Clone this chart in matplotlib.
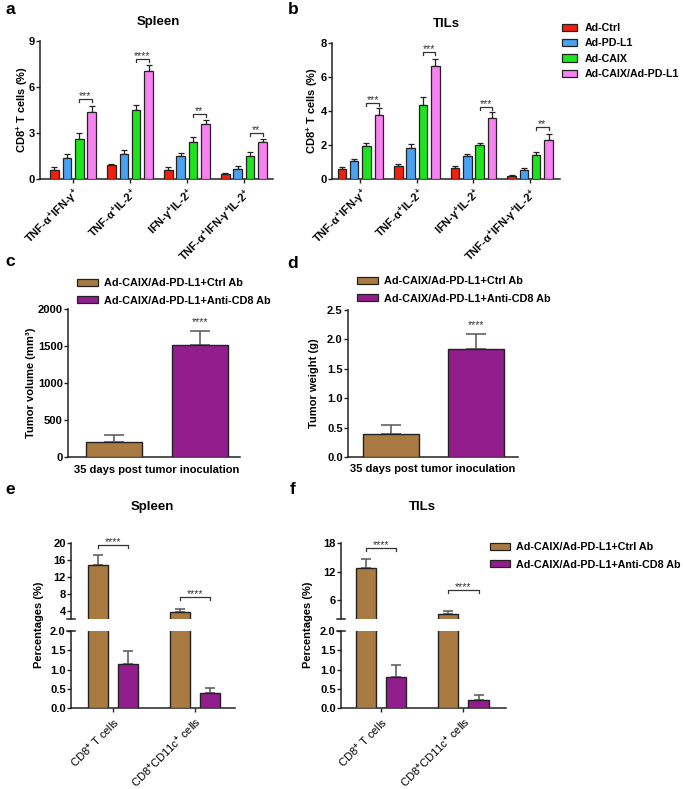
import numpy as np
import matplotlib
matplotlib.use('Agg')
import matplotlib.pyplot as plt
from matplotlib.patches import Patch
from matplotlib.lines import Line2D

plt.rcParams['font.family'] = ['Liberation Sans', 'DejaVu Sans']
plt.rcParams['font.weight'] = 'bold'
plt.rcParams['axes.labelweight'] = 'bold'
plt.rcParams['mathtext.fontset'] = 'custom'
plt.rcParams['mathtext.rm'] = 'Liberation Sans:bold'
plt.rcParams['mathtext.it'] = 'Liberation Sans:bold'
plt.rcParams['mathtext.bf'] = 'Liberation Sans:bold'
plt.rcParams['mathtext.sf'] = 'Liberation Sans:bold'

# ---------------- data ----------------
cytokine_labels = [r'TNF-α$^{+}$IFN-γ$^{+}$', r'TNF-α$^{+}$IL-2$^{+}$',
                   r'IFN-γ$^{+}$IL-2$^{+}$', r'TNF-α$^{+}$IFN-γ$^{+}$IL-2$^{+}$']
treatments = ['Ad-Ctrl', 'Ad-PD-L1', 'Ad-CAIX', 'Ad-CAIX/Ad-PD-L1']
treat_colors = ['#F0200C', '#4AA3F2', '#1EE41E', '#F882F2']

# Spleen (panel a)
spleen_ctrl = [0.56, 0.89, 0.56, 0.33]
spleen_pdl1 = [1.40, 1.63, 1.47, 0.65]
spleen_caix = [2.58, 4.49, 2.43, 1.52]
spleen_combo = [4.36, 7.07, 3.60, 2.39]
spleen_ctrl_err = [0.22, 0.11, 0.22, 0.06]
spleen_pdl1_err = [0.20, 0.27, 0.20, 0.20]
spleen_caix_err = [0.39, 0.35, 0.30, 0.24]
spleen_combo_err = [0.37, 0.39, 0.28, 0.19]
spleen_sig_y = [5.2, 7.85, 4.23, 2.97]
spleen_sig = ['***', '****', '**', '**']

# TILs (panel b)
tils_ctrl = [0.57, 0.79, 0.67, 0.18]
tils_pdl1 = [1.04, 1.85, 1.38, 0.51]
tils_caix = [1.93, 4.38, 2.00, 1.41]
tils_combo = [3.77, 6.66, 3.60, 2.30]
tils_ctrl_err = [0.16, 0.11, 0.08, 0.08]
tils_pdl1_err = [0.16, 0.21, 0.07, 0.12]
tils_caix_err = [0.17, 0.47, 0.14, 0.16]
tils_combo_err = [0.38, 0.39, 0.33, 0.33]
tils_sig_y = [4.5, 7.47, 4.26, 3.03]
tils_sig = ['***', '***', '***', '**']

# Panels c-f
ab_groups = ['Ad-CAIX/Ad-PD-L1+Ctrl Ab', 'Ad-CAIX/Ad-PD-L1+Anti-CD8 Ab']
ab_colors = ['#A97A42', '#921E8D']
tumor_volume = [200, 1520]
tumor_volume_err = [95, 180]
tumor_weight = [0.39, 1.83]
tumor_weight_err = [0.16, 0.27]

cell_labels = [r'CD8$^{+}$ T cells', r'CD8$^{+}$CD11c$^{+}$ cells']
e_ctrl = [14.7, 3.6]
e_ctrl_err = [2.4, 0.85]
e_cd8 = [1.15, 0.39]
e_cd8_err = [0.33, 0.12]
e_sig_y = [19.6, 7.3]
f_ctrl = [12.8, 3.1]
f_ctrl_err = [1.8, 0.6]
f_cd8 = [0.80, 0.22]
f_cd8_err = [0.31, 0.13]
f_sig_y = [17.0, 8.1]

# ---------------- layout helpers ----------------
W, H = 683, 789
fig = plt.figure(figsize=(W / 100, H / 100), dpi=100)
SP = '#222222'
TICK_FS = 8
LAB_FS = 8


def px_axes(left, top, right, bottom):
    return fig.add_axes([left / W, 1 - bottom / H, (right - left) / W, (bottom - top) / H])


def style(ax, xticks=True):
    for s in ['top', 'right']:
        ax.spines[s].set_visible(False)
    for s in ['left', 'bottom']:
        ax.spines[s].set_color(SP)
        ax.spines[s].set_linewidth(1.1)
    ax.tick_params(axis='y', length=3, width=1, color=SP, labelsize=TICK_FS, pad=0.8)
    ax.tick_params(axis='x', length=3 if xticks else 0, width=1, color=SP, labelsize=TICK_FS)
    for lab in ax.get_yticklabels():
        lab.set_fontweight('bold')


def ftext(x, y, s, **kw):
    fig.text(x / W, 1 - y / H, s, **kw)


def bracket(ax, x1, x2, y, text, hpx=3, fs=7.5, color='#333333'):
    y0, y1 = ax.get_ylim()
    hpx_ax = ax.get_position().height * H
    h = hpx * (y1 - y0) / hpx_ax
    ax.plot([x1, x1, x2, x2], [y - h, y, y, y - h], color=color, lw=0.9, clip_on=False)
    ax.annotate(text, ((x1 + x2) / 2, y), xytext=(0, -1.5), textcoords='offset points',
                ha='center', va='bottom', fontsize=fs, fontweight='normal', color=color,
                annotation_clip=False)


def hline_px(x1, x2, y, color=SP, lw=1.1):
    fig.add_artist(Line2D([x1 / W, x2 / W], [1 - y / H, 1 - y / H],
                          transform=fig.transFigure, color=color, lw=lw))


# ---------------- panels a & b ----------------
def grouped_panel(ax, series, errs, sig_y, sig, ylim, yticks, xlim):
    x = np.arange(len(cytokine_labels))
    step, width = 0.218, 0.15
    for i, (vals, err, col) in enumerate(zip(series, errs, treat_colors)):
        xs = x + (i - 1.5) * step
        ax.bar(xs, vals, width, color=col, edgecolor=SP, linewidth=0.9, zorder=3)
        ax.errorbar(xs, vals, yerr=[np.zeros(len(vals)), err], fmt='none',
                    ecolor=SP, elinewidth=0.9, capsize=2.2, capthick=0.9, zorder=2)
    ax.set_ylim(*ylim)
    ax.set_xlim(*xlim)
    ax.set_yticks(yticks)
    ax.set_xticks(x)
    ax.set_xticklabels(cytokine_labels, rotation=45, ha='right', rotation_mode='anchor',
                       fontsize=7.2, fontweight='bold')
    style(ax)
    ax.tick_params(axis='x', pad=2)
    for xi, yi, s in zip(x, sig_y, sig):
        bracket(ax, xi + 0.5 * step, xi + 1.5 * step, yi, s)


ax_a = px_axes(40, 41, 273, 179)
grouped_panel(ax_a, [spleen_ctrl, spleen_pdl1, spleen_caix, spleen_combo],
              [spleen_ctrl_err, spleen_pdl1_err, spleen_caix_err, spleen_combo_err],
              spleen_sig_y, spleen_sig, (0, 9), [0, 3, 6, 9], (-0.58, 3.51))
ax_b = px_axes(332, 43, 560, 179)
grouped_panel(ax_b, [tils_ctrl, tils_pdl1, tils_caix, tils_combo],
              [tils_ctrl_err, tils_pdl1_err, tils_caix_err, tils_combo_err],
              tils_sig_y, tils_sig, (0, 8), [0, 2, 4, 6, 8], (-0.5, 3.53))

ftext(158, 22, 'Spleen', ha='center', va='center', fontsize=9.5)
ftext(446, 24, 'TILs', ha='center', va='center', fontsize=9.5)
ftext(22, 110, r'CD8$^{+}$ T cells (%)', rotation=90, ha='center', va='center', fontsize=LAB_FS)
ftext(312, 111, r'CD8$^{+}$ T cells (%)', rotation=90, ha='center', va='center', fontsize=LAB_FS)

fig.legend([Patch(facecolor=c, edgecolor=SP, linewidth=0.9) for c in treat_colors], treatments,
           loc='upper left', bbox_to_anchor=(562 / W, 1 - 23 / H), frameon=False,
           fontsize=7.7, handlelength=1.4, handleheight=0.65, handletextpad=0.75,
           labelspacing=0.5, borderpad=0, borderaxespad=0)

# ---------------- panels c & d ----------------
def two_bar_panel(ax, vals, errs, ylim, yticks, xlim, sig_y, fmt=None):
    x = np.arange(2)
    ax.bar(x, vals, 0.655, color=ab_colors, edgecolor=SP, linewidth=1.0, zorder=3)
    ax.errorbar(x, vals, yerr=[np.zeros(2), errs], fmt='none', ecolor='#555555',
                elinewidth=1.1, capsize=7, capthick=1.1, zorder=2)
    ax.set_ylim(*ylim)
    ax.set_xlim(*xlim)
    ax.set_yticks(yticks)
    if fmt:
        ax.set_yticklabels([fmt.format(t) for t in yticks])
    ax.set_xticks([])
    style(ax, xticks=False)
    ax.annotate('****', (1, sig_y), xytext=(0, -1.5), textcoords='offset points',
                ha='center', va='bottom', fontsize=7.5, fontweight='normal', color='#333333')


ax_c = px_axes(68, 309, 240, 457)
two_bar_panel(ax_c, tumor_volume, tumor_volume_err, (0, 2000), [0, 500, 1000, 1500, 2000],
              (-0.535, 1.465), 1780)
ax_d = px_axes(348, 310, 518, 457)
two_bar_panel(ax_d, tumor_weight, tumor_weight_err, (0, 2.5), [0, 0.5, 1.0, 1.5, 2.0, 2.5],
              (-0.5, 1.49), 2.2, fmt='{:.1f}')

ftext(31, 383, 'Tumor volume (mm³)', rotation=90, ha='center', va='center', fontsize=LAB_FS)
ftext(314, 383, 'Tumor weight (g)', rotation=90, ha='center', va='center', fontsize=LAB_FS)
ftext(157, 470, '35 days post tumor inoculation', ha='center', va='center', fontsize=LAB_FS)
ftext(433, 469, '35 days post tumor inoculation', ha='center', va='center', fontsize=LAB_FS)

for lx, ly in [(77, 278), (357, 276)]:
    fig.legend([Patch(facecolor=c, edgecolor=SP, linewidth=0.9) for c in ab_colors], ab_groups,
               loc='upper left', bbox_to_anchor=(lx / W, 1 - ly / H), frameon=False,
               fontsize=7.8, handlelength=1.9, handleheight=0.65, handletextpad=0.6,
               labelspacing=0.7, borderpad=0, borderaxespad=0)

# ---------------- panels e & f (broken axes) ----------------
def broken_panel(left, right, top_lim, top_ticks, ctrl, ctrl_err, cd8, cd8_err, sig_y, xlim):
    ax_t = px_axes(left, 543, right, 619)
    ax_b2 = px_axes(left, 631, right, 708)
    x = np.arange(2)
    off, width = 0.185, 0.245
    for ax in (ax_t, ax_b2):
        ax.bar(x - off, ctrl, width, color=ab_colors[0], edgecolor=SP, linewidth=1.0, zorder=3)
        ax.bar(x + off, cd8, width, color=ab_colors[1], edgecolor=SP, linewidth=1.0, zorder=3)
        ax.errorbar(x - off, ctrl, yerr=[np.zeros(2), ctrl_err], fmt='none', ecolor='#555555',
                    elinewidth=1.1, capsize=3.5, capthick=1.1, zorder=2)
        ax.errorbar(x + off, cd8, yerr=[np.zeros(2), cd8_err], fmt='none', ecolor='#555555',
                    elinewidth=1.1, capsize=3.5, capthick=1.1, zorder=2)
        ax.set_xlim(*xlim)
    ax_t.set_ylim(*top_lim)
    ax_t.set_yticks(top_ticks)
    ax_t.set_xticks([])
    style(ax_t, xticks=False)
    ax_t.spines['bottom'].set_visible(False)
    ax_b2.set_ylim(0, 2)
    ax_b2.set_yticks([0, 0.5, 1.0, 1.5, 2.0])
    ax_b2.set_yticklabels(['0.0', '0.5', '1.0', '1.5', '2.0'])
    ax_b2.set_xticks(x)
    ax_b2.set_xticklabels(cell_labels, rotation=45, ha='right', rotation_mode='anchor',
                          fontsize=8.6, fontweight='normal')
    style(ax_b2)
    ax_b2.tick_params(axis='x', pad=2)
    for xi, yi in zip(x, sig_y):
        bracket(ax_t, xi - off, xi + off, yi, '****')
    # break marks
    hline_px(left - 4, left + 4, 619)
    hline_px(left - 4, left + 4, 631)
    return ax_t, ax_b2


broken_panel(71, 235, (2, 20), [4, 8, 12, 16, 20], e_ctrl, e_ctrl_err, e_cd8, e_cd8_err,
             e_sig_y, (-0.51, 1.49))
broken_panel(341, 506, (2, 18), [6, 12, 18], f_ctrl, f_ctrl_err, f_cd8, f_cd8_err,
             f_sig_y, (-0.49, 1.52))

ftext(152, 507, 'Spleen', ha='center', va='center', fontsize=9.5)
ftext(422, 507, 'TILs', ha='center', va='center', fontsize=9.5)
ftext(39, 625, 'Percentages (%)', rotation=90, ha='center', va='center', fontsize=LAB_FS)
ftext(308, 625, 'Percentages (%)', rotation=90, ha='center', va='center', fontsize=LAB_FS)

fig.legend([Patch(facecolor=c, edgecolor=SP, linewidth=0.9) for c in ab_colors], ab_groups,
           loc='upper left', bbox_to_anchor=(490 / W, 1 - 542 / H), frameon=False,
           fontsize=7.75, handlelength=1.9, handleheight=0.65, handletextpad=0.5,
           labelspacing=0.7, borderpad=0, borderaxespad=0)

# ---------------- panel letters ----------------
for letter, lx, ly in [('a', 10, 10), ('b', 293, 10), ('c', 10, 262), ('d', 293, 264),
                       ('e', 10, 490), ('f', 293, 490)]:
    ftext(lx, ly, letter, ha='center', va='center', fontsize=12.5, fontweight='bold')

fig.savefig('out.png', dpi=100)
